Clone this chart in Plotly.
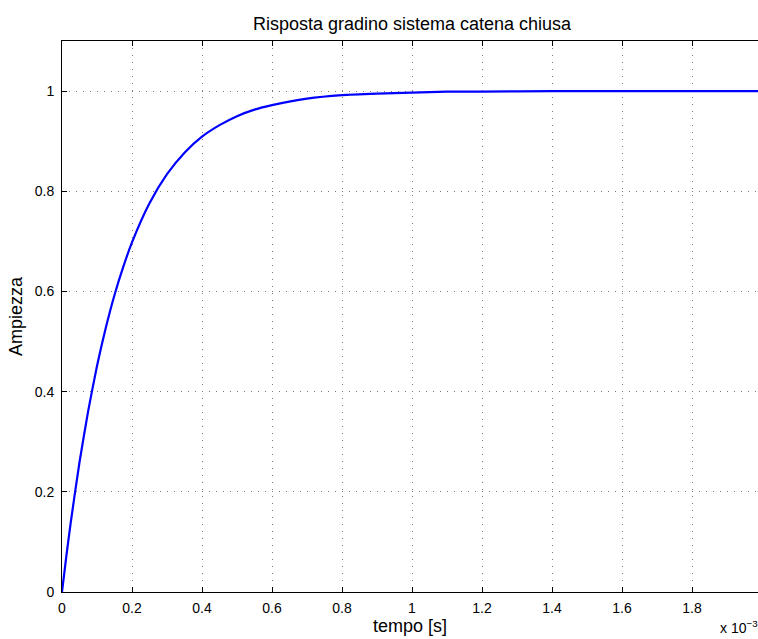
import plotly.graph_objects as go

# Closed-loop step response, time in milliseconds (axis shows x 10^-3 s)
tempo_ms = [0.0, 0.0125, 0.025, 0.05, 0.075, 0.1, 0.125, 0.15, 0.175, 0.2,
            0.25, 0.3, 0.35, 0.4, 0.45, 0.5, 0.55, 0.6, 0.7, 0.8, 0.9,
            1.0, 1.1, 1.2, 1.4, 1.6, 1.8, 2.0]
ampiezza = [0.0, 0.072, 0.139, 0.259, 0.362, 0.451, 0.527, 0.593, 0.649, 0.698,
            0.776, 0.834, 0.877, 0.909, 0.932, 0.950, 0.963, 0.972, 0.985, 0.992, 0.995,
            0.997, 0.999, 0.999, 1.000, 1.000, 1.000, 1.000]

x_ticks = [0, 0.2, 0.4, 0.6, 0.8, 1.0, 1.2, 1.4, 1.6, 1.8, 2.0]
x_ticktext = ["0", "0.2", "0.4", "0.6", "0.8", "1", "1.2", "1.4", "1.6", "1.8", "2"]
y_ticks = [0, 0.2, 0.4, 0.6, 0.8, 1.0]
y_ticktext = ["0", "0.2", "0.4", "0.6", "0.8", "1"]

W, H = 758, 639
ML, MT, MB = 62, 41, 47
AX_W = 700  # full axes width; its right edge lies just past the page
x_max = x_ticks[-1] * (W - ML) / AX_W

FONT = "Liberation Sans, Arial, Helvetica, sans-serif"
TICK_SIZE = 14
LABEL_SIZE = 18

fig = go.Figure()
fig.add_trace(go.Scatter(
    x=tempo_ms, y=ampiezza, mode="lines",
    line=dict(color="#0000ff", width=2.2, shape="spline", smoothing=0.6),
    hoverinfo="skip", showlegend=False,
))

axis_common = dict(
    showline=True, linecolor="black", linewidth=1,
    ticks="inside", ticklen=5, tickcolor="black", tickwidth=1,
    showgrid=True, gridcolor="#7a7a7a", gridwidth=1, griddash="1px,6px",
    zeroline=False,
    tickfont=dict(family=FONT, size=TICK_SIZE, color="black"),
)

fig.update_layout(
    width=W, height=H,
    margin=dict(l=ML, r=0, t=MT, b=MB),
    paper_bgcolor="white", plot_bgcolor="white",
    title=dict(text="Risposta gradino sistema catena chiusa",
               font=dict(family=FONT, size=LABEL_SIZE, color="black"),
               x=(ML + AX_W / 2) / W, xanchor="center", y=1 - 24 / H, yanchor="middle"),
    xaxis=dict(range=[0, x_max], tickvals=x_ticks[:-1], ticktext=x_ticktext[:-1],
               mirror="ticks", ticklabelstandoff=3,
               title=dict(text="tempo [s]", font=dict(family=FONT, size=LABEL_SIZE, color="black"),
                          standoff=0),
               **axis_common),
    yaxis=dict(range=[0, 1.1], tickvals=y_ticks, ticktext=y_ticktext,
               ticklabelstandoff=4,
               title=dict(text="Ampiezza", font=dict(family=FONT, size=LABEL_SIZE, color="black"),
                          standoff=7),
               **axis_common),
    annotations=[
        # last x tick label, whose axis position lies at the page edge
        dict(text=x_ticktext[-1], x=AX_W / (W - ML),
             xref="paper", y=0, yref="paper",
             yshift=-13, showarrow=False, xanchor="center", yanchor="middle",
             font=dict(family=FONT, size=TICK_SIZE, color="black")),
        # axis exponent
        dict(text="x 10<sup>−3</sup>", x=(718 - ML) / (W - ML), xref="paper",
             y=0, yref="paper", showarrow=False, xanchor="left", yanchor="bottom",
             yshift=-46, font=dict(family=FONT, size=TICK_SIZE, color="black")),
    ],
)

fig.write_html("out.html")
